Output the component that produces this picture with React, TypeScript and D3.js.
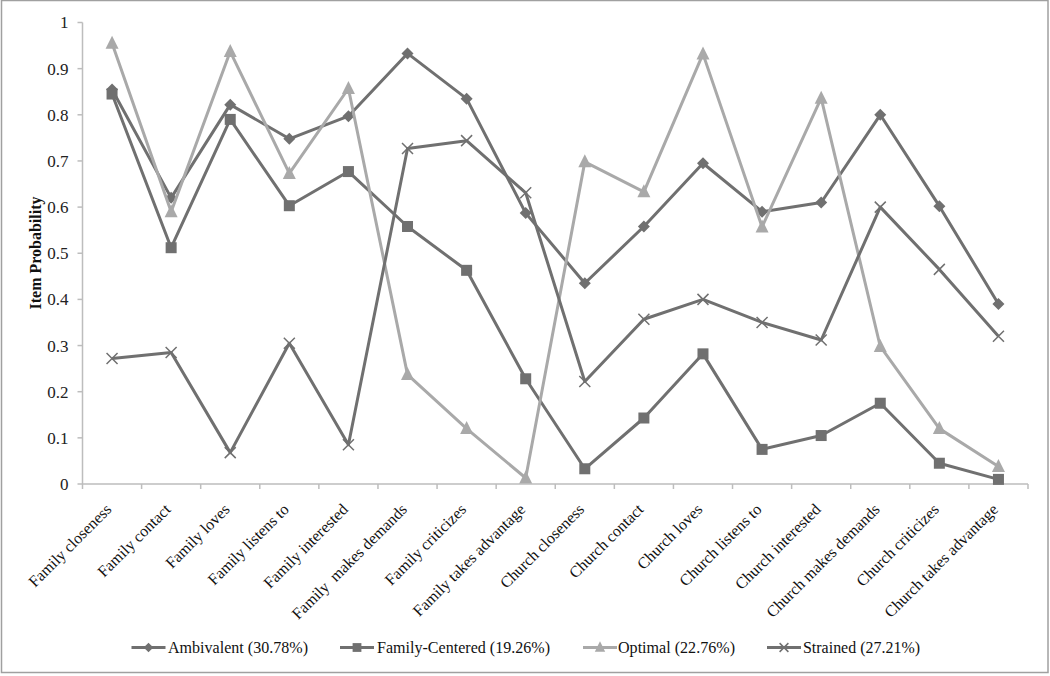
import React from "react";
import * as d3 from "d3";

const categories = [
  "Family closeness", "Family contact", "Family loves", "Family listens to",
  "Family interested", "Family  makes demands", "Family criticizes", "Family takes advantage",
  "Church closeness", "Church contact", "Church loves", "Church listens to",
  "Church interested", "Church makes demands", "Church criticizes", "Church takes advantage",
];
const ambivalent = [0.855, 0.62, 0.822, 0.748, 0.797, 0.933, 0.835, 0.587, 0.435, 0.558, 0.695, 0.59, 0.61, 0.8, 0.602, 0.39];
const familyCentered = [0.845, 0.512, 0.79, 0.603, 0.677, 0.558, 0.463, 0.228, 0.033, 0.143, 0.282, 0.075, 0.105, 0.175, 0.045, 0.01];
const optimal = [0.955, 0.59, 0.937, 0.673, 0.857, 0.237, 0.12, 0.013, 0.698, 0.633, 0.932, 0.557, 0.836, 0.298, 0.12, 0.038];
const strained = [0.272, 0.285, 0.068, 0.305, 0.085, 0.727, 0.744, 0.631, 0.222, 0.357, 0.4, 0.35, 0.312, 0.6, 0.465, 0.32];
const yTicks = [0, 0.1, 0.2, 0.3, 0.4, 0.5, 0.6, 0.7, 0.8, 0.9, 1];
const seriesNames = ["Ambivalent (30.78%)", "Family-Centered (19.26%)", "Optimal (22.76%)", "Strained (27.21%)"];

const DARK = "#707070";
const LIGHT = "#a9a9a9";
const FONT = "Liberation Serif, Times New Roman, Tinos, Times, DejaVu Serif, serif";

const series = [
  { name: seriesNames[0], values: ambivalent, color: DARK, marker: "diamond" },
  { name: seriesNames[1], values: familyCentered, color: DARK, marker: "square" },
  { name: seriesNames[2], values: optimal, color: LIGHT, marker: "triangle" },
  { name: seriesNames[3], values: strained, color: DARK, marker: "x" },
];

function Marker({ type, x, y, color, k = 1 }: { type: string; x: number; y: number; color: string; k?: number }) {
  if (type === "diamond") {
    const s = 6 * k;
    return <path d={`M${x},${y - s}L${x + s},${y}L${x},${y + s}L${x - s},${y}Z`} fill={color} />;
  }
  if (type === "square") {
    const s = 5.5 * k;
    return <rect x={x - s} y={y - s} width={2 * s} height={2 * s} fill={color} />;
  }
  if (type === "triangle") {
    const s = 6.5 * k;
    return <path d={`M${x},${y - s - 1}L${x + s},${y + s - 1}L${x - s},${y + s - 1}Z`} fill={color} />;
  }
  const s = 5.5 * k;
  return <path d={`M${x - s},${y - s}L${x + s},${y + s}M${x - s},${y + s}L${x + s},${y - s}`} stroke={color} strokeWidth={1.5} fill="none" />;
}

export default function App() {
  const W = 1050, H = 676;
  const left = 82.5, right = 1028, top = 22.5, bottom = 484;
  const x = d3.scaleBand<string>().domain(categories).range([left, right]);
  const y = d3.scaleLinear().domain([0, 1]).range([bottom, top]);
  const line = d3.line<number>()
    .x((_, i) => (x(categories[i]) as number) + x.bandwidth() / 2)
    .y((d) => y(d));
  const axisColor = "#bdbdbd";
  const legendX = [131.5, 340, 583, 767];
  const legendTextX = [168, 377, 618, 803];
  const legendTextW = [140, 173, 117, 117];
  const legendY = 647.5;
  return (
    <svg width={W} height={H} style={{ position: "absolute", left: 0, top: 0, fontFamily: FONT }}>
      <rect x={1.5} y={0.5} width={1046.5} height={672} fill="white" stroke="#a0a0a0" strokeWidth={1.5} />
      {/* y axis */}
      <line x1={left} x2={left} y1={top} y2={bottom} stroke={axisColor} strokeWidth={1.5} />
      {yTicks.map((t) => (
        <g key={t}>
          <line x1={left - 5} x2={left} y1={y(t)} y2={y(t)} stroke={axisColor} strokeWidth={1.5} />
          <text x={left - 14} y={y(t)} dy="0.35em" textAnchor="end" fontSize={17} fill="#222">{String(t)}</text>
        </g>
      ))}
      <text transform={`translate(40.5,253) rotate(-90)`} textAnchor="middle" fontSize={16} fontWeight="bold" fill="#111">Item Probability</text>
      {/* x axis */}
      <line x1={left} x2={right} y1={bottom} y2={bottom} stroke={axisColor} strokeWidth={1.5} />
      {categories.map((c, i) => (
        <line key={"t" + i} x1={x(c) as number} x2={x(c) as number} y1={bottom} y2={bottom + 5} stroke={axisColor} strokeWidth={1.5} />
      ))}
      <line x1={right} x2={right} y1={bottom} y2={bottom + 5} stroke={axisColor} strokeWidth={1.5} />
      {categories.map((c) => {
        const cx = (x(c) as number) + x.bandwidth() / 2 - 3.5;
        return (
          <text key={c} transform={`translate(${cx},${bottom + 22.5}) rotate(-45)`} textAnchor="end" dy="0.35em" fontSize={16} fill="#111" style={{ whiteSpace: "pre" }}>{c}</text>
        );
      })}
      {/* series */}
      {series.map((s) => (
        <g key={s.name}>
          <path d={line(s.values) || ""} fill="none" stroke={s.color} strokeWidth={3} strokeLinejoin="round" />
          {s.values.map((v, i) => (
            <Marker key={i} type={s.marker} x={(x(categories[i]) as number) + x.bandwidth() / 2} y={y(v)} color={s.color} />
          ))}
        </g>
      ))}
      {/* legend */}
      {series.map((s, i) => (
        <g key={"l" + i}>
          <line x1={legendX[i]} x2={legendX[i] + 34} y1={legendY} y2={legendY} stroke={s.color} strokeWidth={3} />
          <Marker type={s.marker} x={legendX[i] + 17} y={legendY} color={s.color} k={0.8} />
          <text x={legendTextX[i]} y={legendY} dy="0.35em" fontSize={16} fill="#111" textLength={legendTextW[i]} lengthAdjust="spacingAndGlyphs">{s.name}</text>
        </g>
      ))}
    </svg>
  );
}
